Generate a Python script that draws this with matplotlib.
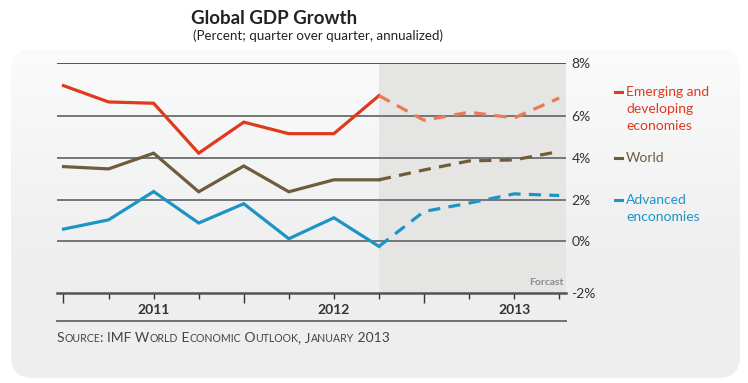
import numpy as np
import matplotlib.pyplot as plt
from matplotlib.patches import FancyBboxPatch
from matplotlib.lines import Line2D
from matplotlib.scale import FuncScale

plt.rcParams['font.family'] = ['Lato', 'DejaVu Sans']

# Datos (porcentaje, trimestral anualizado), trimestres 0..11 = 2011T1..2013T4
trimestres_real = [0, 1, 2, 3, 4, 5, 6, 7]
trimestres_prev = [7, 8, 9, 10, 11]
emergentes_real = [7.14, 6.52, 6.47, 4.21, 5.69, 5.14, 5.14, 6.76]
emergentes_prev = [6.76, 5.78, 6.13, 5.89, 6.67]
mundo_real = [3.57, 3.46, 4.21, 2.37, 3.60, 2.37, 2.94, 2.94]
mundo_prev = [2.94, 3.41, 3.84, 3.89, 4.29]
avanzadas_real = [0.59, 1.03, 2.38, 0.88, 1.80, 0.13, 1.13, -0.19]
avanzadas_prev = [-0.19, 1.43, 1.83, 2.27, 2.19]

valores_y = [-2, 0, 2, 4, 6, 8]
etiquetas_y = ['-2%', '0%', '2%', '4%', '6%', '8%']
anios = ['2011', '2012', '2013']
pos_anios = [2, 6, 10]

rojo, rojo_claro = '#E0391C', '#E97A55'
marron = '#6E5C3B'
azul = '#1E94C6'

W, H = 748, 383
fig = plt.figure(figsize=(W / 100, H / 100), dpi=100)
fig.patch.set_facecolor('white')


def fx(x):
    return x / W


def fy(y):
    return 1 - y / H


# Panel gris con degradado y esquinas redondeadas
bg = fig.add_axes([0, 0, 1, 1])
bg.set_xlim(0, W)
bg.set_ylim(H, 0)
bg.axis('off')
panel = FancyBboxPatch((11, 49), 729, 329, boxstyle='round,pad=0,rounding_size=22',
                       facecolor='none', edgecolor='none')
bg.add_patch(panel)
grad = np.linspace(0, 1, 256).reshape(-1, 1)
c_top = np.array([0.980, 0.984, 0.988])
c_bot = np.array([0.937, 0.937, 0.937])
img = c_top + (c_bot - c_top) * np.clip(grad * 1.6, 0, 1)[..., None]
im = bg.imshow(img.reshape(256, 1, 3), extent=[11, 740, 378, 49], aspect='auto')
im.set_clip_path(panel)

# Funcion de escala: el grafico original no es lineal en los extremos
puntos_val = [-2, 0, 6, 8]
puntos_pos = [-2.457, 0, 6, 8.51]


def forward(v):
    return np.interp(v, puntos_val, puntos_pos)


def inverse(p):
    return np.interp(p, puntos_pos, puntos_val)


ax = fig.add_axes([fx(57), fy(293), fx(566 - 57), (293 - 63) / H])
ax.set_facecolor('none')
ax.set_yscale(FuncScale(ax, (forward, inverse)))
ax.set_ylim(-2, 8)
ax.set_xlim(-0.144, 11.15)

# Zona de prevision
ax.axvspan(7, 11.15, color='#E5E5E3', zorder=0, lw=0)

for v in [0, 2, 4, 6]:
    ax.axhline(v, color='#737678', lw=1.4, zorder=1)
ax.axhline(8, color='#4E5558', lw=1.4, zorder=1)

lw = 2.3
dash = (0, (3.8, 2.6))
ax.plot(trimestres_real, emergentes_real, color=rojo, lw=lw, zorder=3, solid_joinstyle='miter')
ax.plot(trimestres_prev, emergentes_prev, color=rojo_claro, lw=lw, ls=dash, zorder=3)
ax.plot(trimestres_real, mundo_real, color=marron, lw=lw, zorder=3, solid_joinstyle='miter')
ax.plot(trimestres_prev, mundo_prev, color=marron, lw=lw, ls=dash, zorder=3)
ax.plot(trimestres_real, avanzadas_real, color=azul, lw=lw, zorder=3, solid_joinstyle='miter')
ax.plot(trimestres_prev, avanzadas_prev, color=azul, lw=lw, ls=dash, zorder=3)

for s in ['top', 'left', 'right']:
    ax.spines[s].set_visible(False)
ax.spines['bottom'].set_color('#4E5558')
ax.spines['bottom'].set_linewidth(1.8)

ax.yaxis.tick_right()
ax.set_yticks(valores_y)
ax.set_yticklabels(etiquetas_y)
ax.minorticks_off()
ax.tick_params(axis='y', length=0, pad=4, labelsize=10, labelcolor='#333333')

ax.set_xticks([0, 4, 8])
ax.set_xticklabels([])
ax.set_xticks([1, 2, 3, 5, 6, 7, 9, 10, 11], minor=True)
ax.tick_params(axis='x', which='major', length=7.5, width=1, color='#333333')
ax.tick_params(axis='x', which='minor', length=4.5, width=1, color='#333333')

for p, a in zip(pos_anios, anios):
    ax.text(p, -0.074, a, transform=ax.get_xaxis_transform(), ha='center', va='center',
            fontsize=10, fontweight='bold', color='#333333')

ax.plot([0, 1], [-0.122, -0.122], transform=ax.transAxes, color='#6E7173', lw=1.4,
        clip_on=False)

ax.text(11.1, 0.045, 'Forcast', transform=ax.get_xaxis_transform(), ha='right',
        va='center', fontsize=7.5, fontweight='bold', color='#8A8C8E')

# Titulo
fig.text(fx(191), fy(18), 'Global GDP Growth', fontsize=13.5, fontweight='bold',
         color='#222222', va='center')
fig.text(fx(193), fy(36), '(Percent; quarter over quarter, annualized)', fontsize=9.6,
         color='#222222', va='center')

# Leyenda a la derecha
leyenda = [('Emerging and\ndeveloping\neconomies', rojo, 92),
           ('World', marron, 158),
           ('Advanced\nenconomies', azul, 200)]
for texto, col, y in leyenda:
    fig.add_artist(Line2D([fx(615), fx(622)], [fy(y), fy(y)], color=col, lw=2.2))
    fig.text(fx(626), fy(y - 6), texto, color=col, fontsize=10, va='top',
             linespacing=1.5)

# Fuente en versalitas
renderer = fig.canvas.get_renderer()
fuente = 'Source: IMF World Economic Outlook, January 2013'
x = 57
trozos = []
actual, es_min = '', None
for ch in fuente:
    m = ch.islower()
    if es_min is None or m == es_min:
        actual += ch
    else:
        trozos.append((actual, es_min))
        actual = ch
    es_min = m
trozos.append((actual, es_min))
for t, m in trozos:
    txt = fig.text(fx(x), fy(342), t.upper(), fontsize=7.6 if m else 10,
                   color='#444444', va='baseline')
    x += txt.get_window_extent(renderer).width

fig.savefig('out.png', dpi=100)
